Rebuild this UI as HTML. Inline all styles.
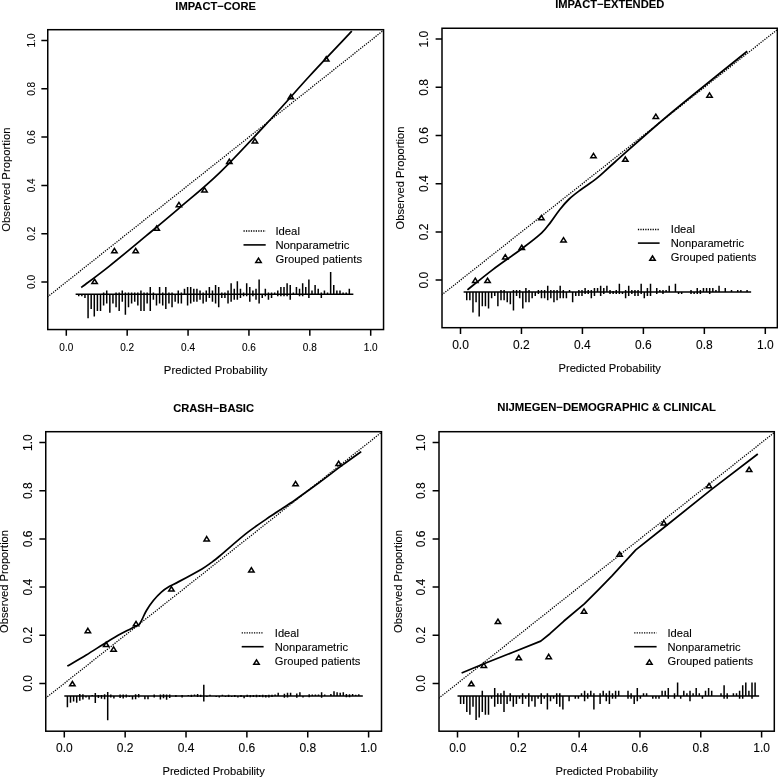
<!DOCTYPE html>
<html lang="en">
<head>
<meta charset="utf-8">
<title>Calibration plots</title>
<style>
html,body{margin:0;padding:0;background:#fff;}
body{width:778px;height:778px;overflow:hidden;font-family:"Liberation Sans",Arial,Helvetica,sans-serif;}
svg text{font-family:"Liberation Sans",Arial,Helvetica,sans-serif;stroke:#000;stroke-width:0.1px;}
</style>
</head>
<body>
<svg width="778" height="778" viewBox="0 0 778 778" style="display:block;font-family:'Liberation Sans',Arial,Helvetica,sans-serif" fill="#000">
<rect x="0" y="0" width="778" height="778" fill="#fff"/>
<g id="plot1">
<clipPath id="clip0"><rect x="47.75" y="29.7" width="335.8" height="299.85"/></clipPath>
<line x1="35.86" y1="306.15" x2="401.14" y2="16.35" stroke="#000" stroke-width="1.3" stroke-dasharray="1.25 1.2" clip-path="url(#clip0)"/>
<path d="M81.22 287.55 C85.91 283.97 98.55 274.71 109.4 266.06 C120.26 257.41 134.77 245.25 146.36 235.63 C157.94 226.01 166.65 218.89 178.93 208.34 C191.21 197.8 204.7 187.25 220.02 172.36 C235.34 157.47 255.89 135.09 270.86 118.99 C285.82 102.89 296.32 90.39 309.82 75.76 C323.32 61.13 344.83 38.63 351.83 31.2" fill="none" stroke="#000" stroke-width="1.75" stroke-linejoin="round" clip-path="url(#clip0)"/>
<path d="M94.61 279.13 L97.31 283.48 L91.91 283.48 Z" fill="none" stroke="#000" stroke-width="1.5" stroke-linejoin="miter"/>
<path d="M114.4 248.46 L117.1 252.81 L111.7 252.81 Z" fill="none" stroke="#000" stroke-width="1.5" stroke-linejoin="miter"/>
<path d="M135.7 248.46 L138.4 252.81 L133 252.81 Z" fill="none" stroke="#000" stroke-width="1.5" stroke-linejoin="miter"/>
<path d="M156.71 226 L159.41 230.35 L154.01 230.35 Z" fill="none" stroke="#000" stroke-width="1.5" stroke-linejoin="miter"/>
<path d="M178.93 202.34 L181.63 206.69 L176.23 206.69 Z" fill="none" stroke="#000" stroke-width="1.5" stroke-linejoin="miter"/>
<path d="M204.5 187.61 L207.2 191.96 L201.8 191.96 Z" fill="none" stroke="#000" stroke-width="1.5" stroke-linejoin="miter"/>
<path d="M229.31 159.21 L232.01 163.56 L226.61 163.56 Z" fill="none" stroke="#000" stroke-width="1.5" stroke-linejoin="miter"/>
<path d="M254.91 138.7 L257.61 143.05 L252.21 143.05 Z" fill="none" stroke="#000" stroke-width="1.5" stroke-linejoin="miter"/>
<path d="M290.8 94.39 L293.5 98.74 L288.1 98.74 Z" fill="none" stroke="#000" stroke-width="1.5" stroke-linejoin="miter"/>
<path d="M326.26 56.71 L328.96 61.06 L323.56 61.06 Z" fill="none" stroke="#000" stroke-width="1.5" stroke-linejoin="miter"/>
<path d="M78.74 294.3 V296.15 M81.85 294.3 V296.15 M84.96 294.3 V298 M88.07 294.3 V318.35 M91.18 294.3 V309.1 M94.29 294.3 V316.5 M97.4 294.3 V310.95 M100.51 294.3 V310.95 M103.62 292.45 V305.4 M106.73 290.6 V303.55 M109.84 294.3 V312.8 M112.95 294.3 V303.55 M116.06 292.45 V307.25 M119.17 292.45 V310.95 M122.28 290.6 V301.7 M125.39 292.45 V314.65 M128.5 292.45 V307.25 M131.61 292.45 V303.55 M134.72 292.45 V301.7 M137.83 292.45 V305.4 M140.94 290.6 V310.95 M144.05 292.45 V310.95 M147.16 292.45 V303.55 M150.27 286.9 V310.95 M153.38 292.45 V299.85 M156.49 294.3 V305.4 M159.6 286.9 V303.55 M162.71 292.45 V305.4 M165.82 286.9 V309.1 M168.93 292.45 V303.55 M172.04 292.45 V307.25 M175.15 294.3 V301.7 M178.26 290.6 V303.55 M181.37 292.45 V303.55 M184.48 288.75 V294.3 M187.59 286.9 V305.4 M190.7 286.9 V303.55 M193.81 288.75 V301.7 M196.92 288.75 V301.7 M200.03 290.6 V299.85 M203.14 292.45 V303.55 M206.25 290.6 V301.7 M209.36 286.9 V298 M212.47 290.6 V301.7 M215.58 285.05 V303.55 M218.69 286.9 V307.25 M221.8 292.45 V298 M224.91 292.45 V298 M228.02 290.6 V303.55 M231.13 283.2 V301.7 M234.24 288.75 V299.85 M237.35 281.35 V299.85 M240.46 288.75 V298 M243.57 292.45 V296.15 M246.68 283.2 V296.15 M249.79 286.9 V301.7 M252.9 290.6 V296.15 M256.01 288.75 V299.85 M259.12 279.5 V303.55 M262.23 294.3 V298 M265.34 288.75 V296.15 M268.45 292.45 V299.85 M271.56 292.45 V298 M274.67 292.45 V294.3 M277.78 290.6 V296.15 M280.89 286.9 V296.15 M284 286.9 V296.15 M287.11 283.2 V296.15 M290.22 285.05 V299.85 M293.33 292.45 V294.3 M296.44 286.9 V294.3 M299.55 288.75 V296.15 M302.66 283.2 V296.15 M305.77 286.9 V294.3 M308.88 279.5 V298 M311.99 290.6 V294.3 M315.1 285.05 V294.3 M318.21 288.75 V294.3 M321.32 292.45 V298 M324.43 290.6 V294.3 M327.54 292.45 V294.3 M330.65 272.1 V294.3 M333.76 285.05 V294.3 M336.87 290.6 V294.3 M339.98 290.6 V294.3 M343.09 292.45 V294.3 M346.2 292.45 V294.3 M349.31 288.75 V294.3" fill="none" stroke="#000" stroke-width="1.5"/>
<line x1="75.63" y1="294.3" x2="353.35" y2="294.3" stroke="#000" stroke-width="1.5"/>
<rect x="47.75" y="29.7" width="335.8" height="299.85" fill="none" stroke="#000" stroke-width="1.5"/>
<path d="M66.3 329.55 v6.2 M47.75 282 h-6.4 M127.18 329.55 v6.2 M47.75 233.7 h-6.4 M188.06 329.55 v6.2 M47.75 185.4 h-6.4 M248.94 329.55 v6.2 M47.75 137.1 h-6.4 M309.82 329.55 v6.2 M47.75 88.8 h-6.4 M370.7 329.55 v6.2 M47.75 40.5 h-6.4" fill="none" stroke="#000" stroke-width="1.5"/>
<text x="66.3" y="350.8" font-size="10.0" text-anchor="middle">0.0</text>
<text transform="translate(34.9 282) rotate(-90)" font-size="10.0" text-anchor="middle">0.0</text>
<text x="127.18" y="350.8" font-size="10.0" text-anchor="middle">0.2</text>
<text transform="translate(34.9 233.7) rotate(-90)" font-size="10.0" text-anchor="middle">0.2</text>
<text x="188.06" y="350.8" font-size="10.0" text-anchor="middle">0.4</text>
<text transform="translate(34.9 185.4) rotate(-90)" font-size="10.0" text-anchor="middle">0.4</text>
<text x="248.94" y="350.8" font-size="10.0" text-anchor="middle">0.6</text>
<text transform="translate(34.9 137.1) rotate(-90)" font-size="10.0" text-anchor="middle">0.6</text>
<text x="309.82" y="350.8" font-size="10.0" text-anchor="middle">0.8</text>
<text transform="translate(34.9 88.8) rotate(-90)" font-size="10.0" text-anchor="middle">0.8</text>
<text x="370.7" y="350.8" font-size="10.0" text-anchor="middle">1.0</text>
<text transform="translate(34.9 40.5) rotate(-90)" font-size="10.0" text-anchor="middle">1.0</text>
<text x="215.65" y="10" font-size="11.15" font-weight="bold" text-anchor="middle">IMPACT−CORE</text>
<text x="215.65" y="373.6" font-size="11.3" text-anchor="middle">Predicted Probability</text>
<text transform="translate(10 179.62) rotate(-90)" font-size="11.3" text-anchor="middle">Observed Proportion</text>
<line x1="243.5" y1="231" x2="265.7" y2="231" stroke="#000" stroke-width="1.3" stroke-dasharray="1.25 1.2"/>
<line x1="243.5" y1="244.9" x2="265.7" y2="244.9" stroke="#000" stroke-width="1.6"/>
<path d="M258.5 258.1 L261.2 262.45 L255.8 262.45 Z" fill="none" stroke="#000" stroke-width="1.5"/>
<text x="275.4" y="234.9" font-size="11.3">Ideal</text>
<text x="275.4" y="248.7" font-size="11.3">Nonparametric</text>
<text x="275.4" y="262.6" font-size="11.3">Grouped patients</text>
</g>
<g id="plot2">
<clipPath id="clip1"><rect x="442" y="28.25" width="335.35" height="299.45"/></clipPath>
<line x1="430.02" y1="304.2" x2="795.78" y2="15" stroke="#000" stroke-width="1.3" stroke-dasharray="1.25 1.2" clip-path="url(#clip1)"/>
<path d="M467.39 289.91 C471.63 286.52 483.75 276.45 492.81 269.59 C501.87 262.74 513.66 254.85 521.76 248.77 C529.87 242.69 536.6 237.54 541.42 233.11 C546.25 228.67 547.65 226.08 550.72 222.14 C553.79 218.2 556.79 213.34 559.86 209.49 C562.94 205.63 565.71 202.3 569.19 199 C572.68 195.71 576.15 193.2 580.77 189.73 C585.4 186.25 591.25 182.78 596.96 178.16 C602.67 173.54 603.28 172.37 615.03 162.01 C626.78 151.65 645.43 134.45 667.46 115.98 C689.49 97.51 733.91 62 747.19 51.2" fill="none" stroke="#000" stroke-width="1.75" stroke-linejoin="round" clip-path="url(#clip1)"/>
<path d="M475.28 278.08 L477.98 282.43 L472.58 282.43 Z" fill="none" stroke="#000" stroke-width="1.5" stroke-linejoin="miter"/>
<path d="M487.54 278.2 L490.24 282.55 L484.84 282.55 Z" fill="none" stroke="#000" stroke-width="1.5" stroke-linejoin="miter"/>
<path d="M505.31 254.58 L508.01 258.93 L502.61 258.93 Z" fill="none" stroke="#000" stroke-width="1.5" stroke-linejoin="miter"/>
<path d="M521.76 245.18 L524.46 249.53 L519.06 249.53 Z" fill="none" stroke="#000" stroke-width="1.5" stroke-linejoin="miter"/>
<path d="M541.42 215.4 L544.12 219.75 L538.72 219.75 Z" fill="none" stroke="#000" stroke-width="1.5" stroke-linejoin="miter"/>
<path d="M563.52 237.59 L566.22 241.94 L560.82 241.94 Z" fill="none" stroke="#000" stroke-width="1.5" stroke-linejoin="miter"/>
<path d="M593.48 153.36 L596.18 157.71 L590.78 157.71 Z" fill="none" stroke="#000" stroke-width="1.5" stroke-linejoin="miter"/>
<path d="M625.31 156.98 L628.01 161.33 L622.61 161.33 Z" fill="none" stroke="#000" stroke-width="1.5" stroke-linejoin="miter"/>
<path d="M655.82 114.08 L658.52 118.43 L653.12 118.43 Z" fill="none" stroke="#000" stroke-width="1.5" stroke-linejoin="miter"/>
<path d="M709.52 92.87 L712.22 97.22 L706.82 97.22 Z" fill="none" stroke="#000" stroke-width="1.5" stroke-linejoin="miter"/>
<path d="M466.73 292 V300.2 M469.85 292 V300.2 M472.96 292 V312.5 M476.07 292 V302.25 M479.19 292 V316.6 M482.31 292 V306.35 M485.42 292 V306.35 M488.54 292 V308.4 M491.65 292 V298.15 M494.76 292 V296.1 M497.88 292 V306.35 M501 289.95 V300.2 M504.11 289.95 V300.2 M507.23 292 V302.25 M510.34 292 V304.3 M513.46 289.95 V310.45 M516.57 289.95 V296.1 M519.68 289.95 V298.15 M522.8 292 V308.4 M525.91 287.9 V302.25 M529.03 289.95 V302.25 M532.14 292 V298.15 M535.26 292 V296.1 M538.38 289.95 V294.05 M541.49 289.95 V298.15 M544.61 289.95 V298.15 M547.72 285.85 V300.2 M550.84 289.95 V298.15 M553.95 289.95 V302.25 M557.07 289.95 V300.2 M560.18 285.85 V298.15 M563.29 289.95 V298.15 M566.41 292 V298.15 M569.52 289.95 V292 M572.64 292 V302.25 M575.75 292 V296.1 M578.87 289.95 V296.1 M581.99 289.95 V296.1 M585.1 287.9 V294.05 M588.22 289.95 V294.05 M591.33 289.95 V298.15 M594.45 287.9 V296.1 M597.56 287.9 V292 M600.67 285.85 V296.1 M603.79 287.9 V294.05 M606.9 285.85 V292 M610.02 289.95 V294.05 M613.13 290.98 V294.05 M616.25 289.95 V294.05 M619.37 283.8 V294.05 M622.48 292 V294.05 M625.6 289.95 V298.15 M628.71 285.85 V296.1 M631.83 289.95 V294.05 M634.94 289.95 V296.1 M638.06 289.95 V296.1 M641.17 283.8 V294.05 M644.29 292 V298.15 M647.4 287.9 V296.1 M650.51 283.8 V296.1 M656.75 287.9 V294.05 M659.86 289.95 V292 M662.98 289.95 V294.05 M666.09 289.95 V292 M669.21 285.85 V292 M675.43 283.8 V292 M678.55 292 V294.05 M681.66 292 V294.05 M691.01 289.95 V294.05 M694.12 292 V294.05 M697.24 287.9 V294.05 M700.36 289.95 V294.05 M703.47 287.9 V292 M706.59 287.9 V292 M709.7 287.9 V294.05 M712.82 287.9 V292 M715.93 289.95 V292 M719.05 285.85 V292 M725.28 287.9 V292 M731.5 289.95 V292 M737.74 289.95 V292 M740.85 289.95 V292 M747.08 289.95 V292" fill="none" stroke="#000" stroke-width="1.5"/>
<line x1="463.62" y1="292" x2="751.13" y2="292" stroke="#000" stroke-width="1.5"/>
<rect x="442" y="28.25" width="335.35" height="299.45" fill="none" stroke="#000" stroke-width="1.5"/>
<path d="M460.5 327.7 v6.2 M442 280.1 h-6.4 M521.46 327.7 v6.2 M442 231.9 h-6.4 M582.42 327.7 v6.2 M442 183.7 h-6.4 M643.38 327.7 v6.2 M442 135.5 h-6.4 M704.34 327.7 v6.2 M442 87.3 h-6.4 M765.3 327.7 v6.2 M442 39.1 h-6.4" fill="none" stroke="#000" stroke-width="1.5"/>
<text x="460.5" y="348.7" font-size="12.0" text-anchor="middle">0.0</text>
<text transform="translate(428.1 280.1) rotate(-90)" font-size="12.0" text-anchor="middle">0.0</text>
<text x="521.46" y="348.7" font-size="12.0" text-anchor="middle">0.2</text>
<text transform="translate(428.1 231.9) rotate(-90)" font-size="12.0" text-anchor="middle">0.2</text>
<text x="582.42" y="348.7" font-size="12.0" text-anchor="middle">0.4</text>
<text transform="translate(428.1 183.7) rotate(-90)" font-size="12.0" text-anchor="middle">0.4</text>
<text x="643.38" y="348.7" font-size="12.0" text-anchor="middle">0.6</text>
<text transform="translate(428.1 135.5) rotate(-90)" font-size="12.0" text-anchor="middle">0.6</text>
<text x="704.34" y="348.7" font-size="12.0" text-anchor="middle">0.8</text>
<text transform="translate(428.1 87.3) rotate(-90)" font-size="12.0" text-anchor="middle">0.8</text>
<text x="765.3" y="348.7" font-size="12.0" text-anchor="middle">1.0</text>
<text transform="translate(428.1 39.1) rotate(-90)" font-size="12.0" text-anchor="middle">1.0</text>
<text x="609.67" y="8.1" font-size="11.15" font-weight="bold" text-anchor="middle">IMPACT−EXTENDED</text>
<text x="609.67" y="372.05" font-size="11.17" text-anchor="middle">Predicted Probability</text>
<text transform="translate(404.4 177.97) rotate(-90)" font-size="11.17" text-anchor="middle">Observed Proportion</text>
<line x1="637.9" y1="229.5" x2="659.6" y2="229.5" stroke="#000" stroke-width="1.3" stroke-dasharray="1.25 1.2"/>
<line x1="637.9" y1="243.1" x2="659.6" y2="243.1" stroke="#000" stroke-width="1.6"/>
<path d="M652.5 256 L655.2 260.35 L649.8 260.35 Z" fill="none" stroke="#000" stroke-width="1.5"/>
<text x="670.8" y="233.3" font-size="11.17">Ideal</text>
<text x="670.8" y="247" font-size="11.17">Nonparametric</text>
<text x="670.8" y="261.2" font-size="11.17">Grouped patients</text>
</g>
<g id="plot3">
<clipPath id="clip2"><rect x="45.75" y="431.7" width="335.75" height="299.5"/></clipPath>
<line x1="33.87" y1="707.48" x2="399.03" y2="418.52" stroke="#000" stroke-width="1.3" stroke-dasharray="1.25 1.2" clip-path="url(#clip2)"/>
<path d="M67.31 666.11 C70.47 664.26 79.79 658.93 86.27 654.99 C92.75 651.04 100.4 646 106.17 642.46 C111.94 638.93 115.73 636.6 120.9 633.8 C126.07 630.99 133.89 627.55 137.18 625.61 C140.47 623.66 139.1 624.62 140.65 622.12 C142.2 619.61 144.34 614.15 146.46 610.56 C148.58 606.97 150.88 603.63 153.37 600.56 C155.85 597.49 158.67 594.5 161.37 592.14 C164.07 589.77 166.68 588.11 169.59 586.36 C172.5 584.61 173.44 584.55 178.84 581.64 C184.23 578.73 196.57 572.06 201.97 568.9 C207.36 565.74 208.21 564.86 211.22 562.66 C214.22 560.47 213.95 560.77 220.01 555.73 C226.07 550.69 239.04 539.07 247.58 532.42 C256.12 525.76 263.3 521.22 271.22 515.8 C279.15 510.39 287.16 505.41 295.11 499.91 C303.06 494.41 310.98 488.64 318.91 482.81 C326.84 476.98 335.65 470.12 342.7 464.92 C349.75 459.72 358.12 453.83 361.21 451.61" fill="none" stroke="#000" stroke-width="1.75" stroke-linejoin="round" clip-path="url(#clip2)"/>
<path d="M72.39 681.5 L75.09 685.85 L69.69 685.85 Z" fill="none" stroke="#000" stroke-width="1.5" stroke-linejoin="miter"/>
<path d="M87.88 628.28 L90.58 632.63 L85.18 632.63 Z" fill="none" stroke="#000" stroke-width="1.5" stroke-linejoin="miter"/>
<path d="M106.17 642.25 L108.87 646.6 L103.47 646.6 Z" fill="none" stroke="#000" stroke-width="1.5" stroke-linejoin="miter"/>
<path d="M113.6 646.82 L116.3 651.17 L110.9 651.17 Z" fill="none" stroke="#000" stroke-width="1.5" stroke-linejoin="miter"/>
<path d="M136.02 621.4 L138.72 625.75 L133.32 625.75 Z" fill="none" stroke="#000" stroke-width="1.5" stroke-linejoin="miter"/>
<path d="M171.41 586.7 L174.11 591.05 L168.71 591.05 Z" fill="none" stroke="#000" stroke-width="1.5" stroke-linejoin="miter"/>
<path d="M206.71 536.54 L209.41 540.89 L204.01 540.89 Z" fill="none" stroke="#000" stroke-width="1.5" stroke-linejoin="miter"/>
<path d="M251.38 567.7 L254.08 572.05 L248.68 572.05 Z" fill="none" stroke="#000" stroke-width="1.5" stroke-linejoin="miter"/>
<path d="M295.57 481.4 L298.27 485.75 L292.87 485.75 Z" fill="none" stroke="#000" stroke-width="1.5" stroke-linejoin="miter"/>
<path d="M338.63 461.17 L341.33 465.52 L335.93 465.52 Z" fill="none" stroke="#000" stroke-width="1.5" stroke-linejoin="miter"/>
<path d="M67.4 696 V707.2 M70.5 696 V702.7 M73.6 696 V701.4 M76.7 696 V702.7 M79.8 694.1 V700.8 M82.9 694.3 V699.5 M86 696 V697.5 M89.1 696 V699.5 M92.2 695 V696 M95.3 693 V703 M98.4 695 V698 M101.5 695 V698.8 M104.6 694.3 V699.2 M107.7 692.1 V720.3 M110.8 694.6 V697.5 M113.9 696 V698.4 M120.1 694.6 V697.9 M123.2 694.6 V698.4 M126.3 694.6 V697.5 M129.4 696 V697 M132.5 696 V699.5 M135.6 694.3 V699.2 M138.7 694.1 V697.5 M144.9 696 V699.2 M148 696 V699.2 M154.2 694.6 V697.5 M160.4 694.6 V699.5 M163.5 694.3 V698.2 M166.6 694.5 V699.7 M169.7 694.6 V698 M175.9 695 V697 M182.1 695 V697.5 M188.3 695 V696 M191.4 694.7 V697 M194.5 694.6 V696 M197.6 694 V697 M200.7 694.7 V697 M203.8 684.7 V701.4 M206.9 696 V697 M210 694.7 V696 M216.2 696 V697 M219.3 696 V697.5 M222.4 694.7 V696 M225.5 696 V697 M228.6 694.7 V697 M231.7 696 V697 M234.8 695 V697 M237.9 696 V697.5 M241 695 V697 M244.1 696 V698.2 M247.2 694.7 V697 M250.3 695 V697.3 M253.4 695 V697 M256.5 694.8 V697.3 M259.6 695 V697 M262.7 694.8 V697.3 M265.8 695 V697.5 M268.9 694.8 V697.5 M272 694.7 V697 M275.1 694.5 V696 M278.2 692.7 V696 M284.4 693.8 V697.7 M287.5 692.7 V697.5 M290.6 692.7 V696 M296.8 693.5 V697.7 M299.9 692.3 V696 M303 696 V697.5 M309.2 694.3 V697.3 M312.3 694.5 V696 M315.4 694.5 V696 M318.5 694.5 V696 M321.6 692.3 V697.7 M324.7 694.5 V696 M330.9 694 V696 M334 691.3 V696 M337.1 692.3 V696 M340.2 692.7 V696 M343.3 692.3 V696 M346.4 694 V697.3 M349.5 694.3 V697.3 M352.6 694 V696 M355.7 694.7 V696 M358.8 694.3 V696" fill="none" stroke="#000" stroke-width="1.5"/>
<line x1="64.3" y1="696" x2="362.83" y2="696" stroke="#000" stroke-width="1.5"/>
<rect x="45.75" y="431.7" width="335.75" height="299.5" fill="none" stroke="#000" stroke-width="1.5"/>
<path d="M64.3 731.2 v6.2 M45.75 683.4 h-6.4 M125.16 731.2 v6.2 M45.75 635.24 h-6.4 M186.02 731.2 v6.2 M45.75 587.08 h-6.4 M246.88 731.2 v6.2 M45.75 538.92 h-6.4 M307.74 731.2 v6.2 M45.75 490.76 h-6.4 M368.6 731.2 v6.2 M45.75 442.6 h-6.4" fill="none" stroke="#000" stroke-width="1.5"/>
<text x="64.3" y="752.2" font-size="12.0" text-anchor="middle">0.0</text>
<text transform="translate(31.7 683.4) rotate(-90)" font-size="12.0" text-anchor="middle">0.0</text>
<text x="125.16" y="752.2" font-size="12.0" text-anchor="middle">0.2</text>
<text transform="translate(31.7 635.24) rotate(-90)" font-size="12.0" text-anchor="middle">0.2</text>
<text x="186.02" y="752.2" font-size="12.0" text-anchor="middle">0.4</text>
<text transform="translate(31.7 587.08) rotate(-90)" font-size="12.0" text-anchor="middle">0.4</text>
<text x="246.88" y="752.2" font-size="12.0" text-anchor="middle">0.6</text>
<text transform="translate(31.7 538.92) rotate(-90)" font-size="12.0" text-anchor="middle">0.6</text>
<text x="307.74" y="752.2" font-size="12.0" text-anchor="middle">0.8</text>
<text transform="translate(31.7 490.76) rotate(-90)" font-size="12.0" text-anchor="middle">0.8</text>
<text x="368.6" y="752.2" font-size="12.0" text-anchor="middle">1.0</text>
<text transform="translate(31.7 442.6) rotate(-90)" font-size="12.0" text-anchor="middle">1.0</text>
<text x="213.62" y="411.8" font-size="11.15" font-weight="bold" text-anchor="middle">CRASH−BASIC</text>
<text x="213.62" y="775.1" font-size="11.17" text-anchor="middle">Predicted Probability</text>
<text transform="translate(8.2 581.45) rotate(-90)" font-size="11.17" text-anchor="middle">Observed Proportion</text>
<line x1="241.7" y1="632.9" x2="263.6" y2="632.9" stroke="#000" stroke-width="1.3" stroke-dasharray="1.25 1.2"/>
<line x1="241.7" y1="646.7" x2="263.6" y2="646.7" stroke="#000" stroke-width="1.6"/>
<path d="M256.5 659.8 L259.2 664.15 L253.8 664.15 Z" fill="none" stroke="#000" stroke-width="1.5"/>
<text x="274.8" y="636.6" font-size="11.17">Ideal</text>
<text x="274.8" y="650.6" font-size="11.17">Nonparametric</text>
<text x="274.8" y="664.8" font-size="11.17">Grouped patients</text>
</g>
<g id="plot4">
<clipPath id="clip3"><rect x="439" y="431.7" width="335.3" height="299.5"/></clipPath>
<line x1="427.09" y1="707.48" x2="792.01" y2="418.52" stroke="#000" stroke-width="1.3" stroke-dasharray="1.25 1.2" clip-path="url(#clip3)"/>
<path d="M461.61 673.05 L483.84 663.77 L513 652.22 L540.73 641.12 L549.95 633.7 L563.93 621.03 L584.61 603.7 L598.6 589.73 L611.98 575.86 L635.79 549.83 L664.29 527.24 L711.91 489.19 L757.8 454.01" fill="none" stroke="#000" stroke-width="1.75" stroke-linejoin="round" clip-path="url(#clip3)"/>
<path d="M471.34 681.5 L474.04 685.85 L468.64 685.85 Z" fill="none" stroke="#000" stroke-width="1.5" stroke-linejoin="miter"/>
<path d="M483.84 663.03 L486.54 667.38 L481.14 667.38 Z" fill="none" stroke="#000" stroke-width="1.5" stroke-linejoin="miter"/>
<path d="M497.95 619.13 L500.65 623.48 L495.25 623.48 Z" fill="none" stroke="#000" stroke-width="1.5" stroke-linejoin="miter"/>
<path d="M518.78 655.49 L521.48 659.84 L516.08 659.84 Z" fill="none" stroke="#000" stroke-width="1.5" stroke-linejoin="miter"/>
<path d="M548.73 654.29 L551.43 658.64 L546.03 658.64 Z" fill="none" stroke="#000" stroke-width="1.5" stroke-linejoin="miter"/>
<path d="M584.01 608.9 L586.71 613.25 L581.31 613.25 Z" fill="none" stroke="#000" stroke-width="1.5" stroke-linejoin="miter"/>
<path d="M619.59 552 L622.29 556.35 L616.89 556.35 Z" fill="none" stroke="#000" stroke-width="1.5" stroke-linejoin="miter"/>
<path d="M663.89 520.65 L666.59 525 L661.19 525 Z" fill="none" stroke="#000" stroke-width="1.5" stroke-linejoin="miter"/>
<path d="M708.99 483.32 L711.69 487.67 L706.29 487.67 Z" fill="none" stroke="#000" stroke-width="1.5" stroke-linejoin="miter"/>
<path d="M749.13 467.19 L751.83 471.54 L746.43 471.54 Z" fill="none" stroke="#000" stroke-width="1.5" stroke-linejoin="miter"/>
<path d="M460.6 696 V704.04 M463.7 696 V704.04 M466.8 696 V712.08 M469.9 696 V714.76 M473 696 V706.72 M476.1 696 V720.12 M479.2 696 V717.44 M482.3 690.64 V712.08 M485.4 696 V714.76 M488.5 696 V714.76 M491.6 696 V698.68 M494.7 687.96 V706.72 M497.8 693.32 V704.04 M500.9 693.32 V704.04 M504 690.64 V712.08 M507.1 696 V704.04 M510.2 693.32 V701.36 M513.3 696 V706.72 M516.4 696 V704.04 M519.5 696 V698.68 M522.6 693.32 V704.04 M525.7 696 V698.68 M528.8 693.32 V706.72 M531.9 696 V701.36 M535 696 V706.72 M538.1 696 V698.68 M541.2 693.32 V704.04 M544.3 696 V698.68 M547.4 693.32 V709.4 M550.5 696 V701.36 M553.6 696 V698.68 M556.7 693.32 V704.04 M559.8 693.32 V706.72 M562.9 696 V709.4 M569.1 696 V701.36 M575.3 696 V698.68 M578.4 696 V698.68 M581.5 693.32 V696 M584.6 690.64 V701.36 M587.7 693.32 V698.68 M590.8 690.64 V696 M593.9 693.32 V709.4 M600.1 693.32 V704.04 M603.2 690.64 V696 M606.3 693.32 V701.36 M609.4 690.64 V704.04 M612.5 693.32 V698.68 M615.6 690.64 V698.68 M618.7 690.64 V696 M628 690.64 V698.68 M631.1 693.32 V698.68 M634.2 696 V704.04 M637.3 687.96 V701.36 M640.4 696 V698.68 M643.5 693.32 V696 M646.6 693.32 V696 M652.8 696 V698.68 M655.9 696 V698.68 M659 696 V698.68 M662.1 690.64 V696 M665.2 690.64 V696 M668.3 687.96 V698.68 M674.5 693.32 V698.68 M677.6 682.6 V696 M680.7 696 V698.68 M683.8 690.64 V696 M686.9 693.32 V696 M690 690.64 V701.36 M693.1 693.32 V696 M696.2 687.96 V696 M699.3 693.32 V696 M702.4 696 V698.68 M705.5 690.64 V696 M708.6 687.96 V696 M711.7 690.64 V696 M721 693.32 V696 M724.1 685.28 V698.68 M727.2 693.32 V698.68 M733.4 693.32 V696 M736.5 693.32 V696 M739.6 690.64 V698.68 M742.7 685.28 V698.68 M745.8 682.6 V696 M748.9 690.64 V696 M752 682.6 V698.68 M755.1 682.6 V696" fill="none" stroke="#000" stroke-width="1.5"/>
<line x1="457.5" y1="696" x2="759.13" y2="696" stroke="#000" stroke-width="1.5"/>
<rect x="439" y="431.7" width="335.3" height="299.5" fill="none" stroke="#000" stroke-width="1.5"/>
<path d="M457.5 731.2 v6.2 M439 683.4 h-6.4 M518.32 731.2 v6.2 M439 635.24 h-6.4 M579.14 731.2 v6.2 M439 587.08 h-6.4 M639.96 731.2 v6.2 M439 538.92 h-6.4 M700.78 731.2 v6.2 M439 490.76 h-6.4 M761.6 731.2 v6.2 M439 442.6 h-6.4" fill="none" stroke="#000" stroke-width="1.5"/>
<text x="457.5" y="752.4" font-size="12.0" text-anchor="middle">0.0</text>
<text transform="translate(424.9 683.4) rotate(-90)" font-size="12.0" text-anchor="middle">0.0</text>
<text x="518.32" y="752.4" font-size="12.0" text-anchor="middle">0.2</text>
<text transform="translate(424.9 635.24) rotate(-90)" font-size="12.0" text-anchor="middle">0.2</text>
<text x="579.14" y="752.4" font-size="12.0" text-anchor="middle">0.4</text>
<text transform="translate(424.9 587.08) rotate(-90)" font-size="12.0" text-anchor="middle">0.4</text>
<text x="639.96" y="752.4" font-size="12.0" text-anchor="middle">0.6</text>
<text transform="translate(424.9 538.92) rotate(-90)" font-size="12.0" text-anchor="middle">0.6</text>
<text x="700.78" y="752.4" font-size="12.0" text-anchor="middle">0.8</text>
<text transform="translate(424.9 490.76) rotate(-90)" font-size="12.0" text-anchor="middle">0.8</text>
<text x="761.6" y="752.4" font-size="12.0" text-anchor="middle">1.0</text>
<text transform="translate(424.9 442.6) rotate(-90)" font-size="12.0" text-anchor="middle">1.0</text>
<text x="606.65" y="411.1" font-size="11.3" font-weight="bold" text-anchor="middle">NIJMEGEN−DEMOGRAPHIC &amp; CLINICAL</text>
<text x="606.65" y="775.4" font-size="11.17" text-anchor="middle">Predicted Probability</text>
<text transform="translate(402 581.45) rotate(-90)" font-size="11.17" text-anchor="middle">Observed Proportion</text>
<line x1="634.2" y1="632.9" x2="656.6" y2="632.9" stroke="#000" stroke-width="1.3" stroke-dasharray="1.25 1.2"/>
<line x1="634.2" y1="646.7" x2="656.6" y2="646.7" stroke="#000" stroke-width="1.6"/>
<path d="M649.4 659.8 L652.1 664.15 L646.7 664.15 Z" fill="none" stroke="#000" stroke-width="1.5"/>
<text x="667.5" y="636.6" font-size="11.17">Ideal</text>
<text x="667.5" y="650.6" font-size="11.17">Nonparametric</text>
<text x="667.5" y="664.8" font-size="11.17">Grouped patients</text>
</g>
</svg>
</body>
</html>
